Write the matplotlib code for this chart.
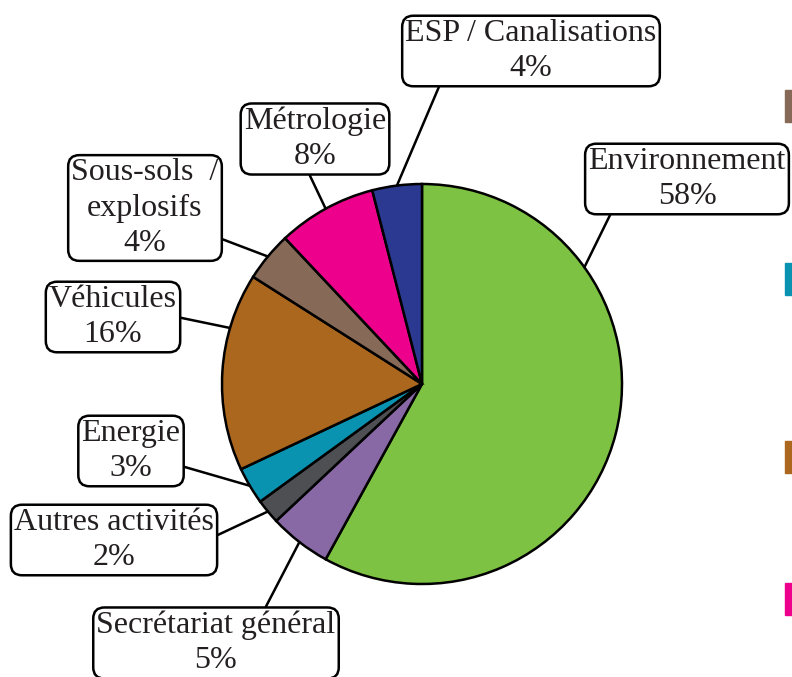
import numpy as np
import matplotlib
matplotlib.use("Agg")
import matplotlib.pyplot as plt
from matplotlib.patches import Rectangle

plt.rcParams['font.family'] = ['Liberation Serif', 'DejaVu Serif']

labels = ["Environnement", "Secrétariat général", "Autres activités", "Energie",
          "Véhicules", "Sous-sols  /\nexplosifs", "Métrologie", "ESP / Canalisations"]
values = [58, 5, 2, 3, 16, 4, 8, 4]
colors = ["#7DC242", "#8869A5", "#4D4F53", "#0A93B1",
          "#AB671E", "#866A57", "#EC008C", "#2B3990"]

# label box centres (x, y from top, in pixels) and where the leader leaves the box
label_pos = [(687, 179), (216, 643), (114, 540), (131, 451),
             (113, 317), (145, 208), (315, 139), (531, 51)]
leader_rel = [(0.12, 0.0), (0.7, 1.0), (1.0, 0.55), (1.0, 0.27),
              (1.0, 0.5), (1.0, 0.2), (0.45, 0.0), (0.14, 0.0)]
# where the leader touches the pie, as fraction inside the wedge
leader_frac = [0.26, 0.5, 0.5, 0.5, 0.72, 0.5, 0.5, 0.5]

# partially visible legend swatches on the right edge
legend_idx = [5, 3, 4, 6]
legend_y = [90, 263, 441, 583]

W, H = 792, 677
fig = plt.figure(figsize=(W / 100, H / 100), dpi=100)
ax = fig.add_axes([0, 0, 1, 1])

cx, cy, r = 422, H - 384, 200
ax.pie(values, colors=colors, startangle=90, counterclock=False,
       center=(cx, cy), radius=r,
       wedgeprops=dict(edgecolor='black', linewidth=1.8))
ax.set_xlim(0, W)
ax.set_ylim(0, H)
ax.set_aspect('equal')
ax.axis('off')

total = sum(values)
cum = np.cumsum([0] + values[:-1])
for i, lab in enumerate(labels):
    frac = (cum[i] + values[i] * leader_frac[i]) / total
    ang = np.deg2rad(90 - 360 * frac)
    px, py = cx + r * np.cos(ang), cy + r * np.sin(ang)
    tx, ty = label_pos[i]
    ax.annotate(f"{lab}\n{values[i]}%", xy=(px, py), xytext=(tx, H - ty),
                ha='center', va='center', fontsize=23, color='#231F20',
                linespacing=1.28,
                bbox=dict(boxstyle='round,pad=0.1,rounding_size=0.35',
                          fc='white', ec='black', lw=1.8),
                arrowprops=dict(arrowstyle='-', color='black', lw=1.8,
                                relpos=leader_rel[i], shrinkA=0, shrinkB=0))

for k, y in zip(legend_idx, legend_y):
    ax.add_patch(Rectangle((785, H - y - 32), 32, 32, color=colors[k], clip_on=False))

fig.savefig("out.png", dpi=100)
